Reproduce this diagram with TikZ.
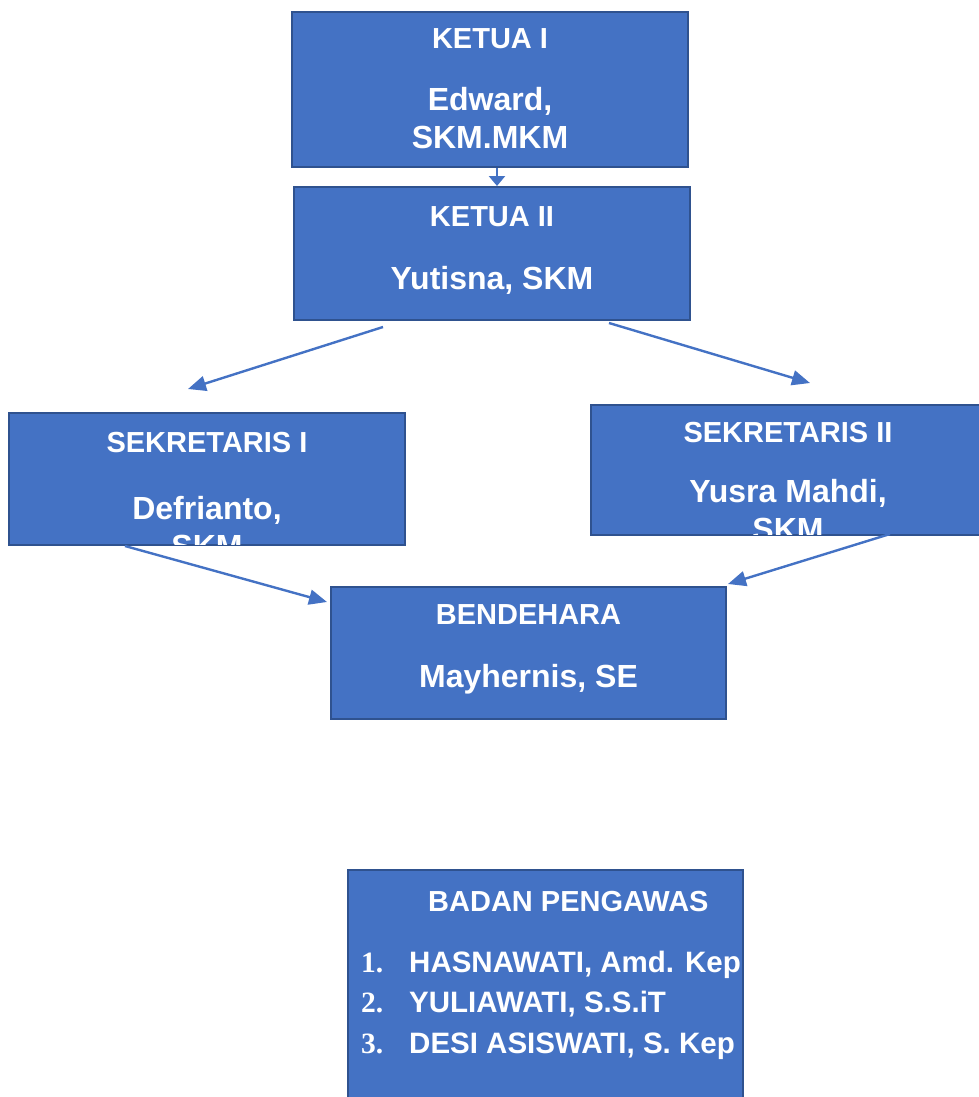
\documentclass[tikz,border=0pt]{standalone}
\usepackage{fontspec}
\setmainfont{Liberation Sans}
\newfontfamily\angka{Liberation Serif}
\usetikzlibrary{arrows.meta}
\definecolor{biru}{HTML}{4472C4}
\definecolor{birutua}{HTML}{2F528F}

\begin{document}
\begin{tikzpicture}[x=1pt,y=-1pt,
  kotak/.style={draw=birutua, fill=biru, line width=2pt, inner sep=0pt},
  judul/.style={text=white, font=\fontsize{29}{34}\selectfont\bfseries, inner sep=0pt, anchor=base},
  nama/.style={text=white, font=\fontsize{32}{38}\selectfont\bfseries, inner sep=0pt, anchor=base, align=center},
  isi/.style={text=white, font=\fontsize{29.5}{34}\selectfont\bfseries, inner sep=0pt, anchor=base west},
  nomor/.style={isi, font=\fontsize{29.5}{34}\selectfont\angka\bfseries},
  panah/.style={biru, line width=2.4pt, -{Triangle[length=18pt,width=15pt]}}
]
\useasboundingbox (0,0) rectangle (978,1097);

\node[kotak, minimum width=396pt, minimum height=155pt] (k1) at (490,89.5) {};
\node[kotak, minimum width=396pt, minimum height=133pt] (k2) at (492,253.5) {};
\node[kotak, minimum width=396pt, minimum height=132pt] (s1) at (207,479) {};
\node[kotak, minimum width=394pt, minimum height=130pt] (s2) at (788,470) {};
\node[kotak, minimum width=395pt, minimum height=132pt] (bd) at (528.5,653) {};
\node[kotak, minimum width=395pt, minimum height=240pt] (bp) at (545.5,990) {};

% base of a two-line node is the last line
\node[judul] (k1j) at ([yshift=-38pt]k1.north) {KETUA I};
\node[nama] (k1n) at ([yshift=-138pt]k1.north) {Edward,\\SKM.MKM};
\node[judul] (k2j) at ([yshift=-40pt]k2.north) {KETUA II};
\node[nama] (k2n) at ([yshift=-103pt]k2.north) {Yutisna, SKM};
\node[judul] (s1j) at ([yshift=-40pt]s1.north) {SEKRETARIS I};
\node[judul] (s2j) at ([yshift=-38pt]s2.north) {SEKRETARIS II};
\node[judul] (bdj) at ([yshift=-38pt]bd.north) {BENDEHARA};
\node[nama] (bdn) at ([yshift=-101pt]bd.north) {Mayhernis, SE};

\begin{scope}
\clip ([yshift=2pt]s1.south west) rectangle (s1.north east);
\node[nama] (s1n) at ([yshift=-145pt]s1.north) {Defrianto,\\SKM};
\end{scope}
\begin{scope}
\clip ([yshift=2pt]s2.south west) rectangle (s2.north east);
\node[nama] (s2n) at ([yshift=-136pt]s2.north) {Yusra Mahdi,\\SKM};
\end{scope}

\node[judul, anchor=base west] (bpj) at ([xshift=81pt,yshift=-42pt]bp.north west) {BADAN PENGAWAS};
\node[nomor] (no1) at ([xshift=14pt,yshift=-103pt]bp.north west) {1.};
\node[nomor] (no2) at ([xshift=14pt,yshift=-143pt]bp.north west) {2.};
\node[nomor] (no3) at ([xshift=14pt,yshift=-184pt]bp.north west) {3.};
\node[isi] (bp1) at ([xshift=62pt,yshift=-103pt]bp.north west) {HASNAWATI, Amd. Kep};
\node[isi] (bp2) at ([xshift=62pt,yshift=-143pt]bp.north west) {YULIAWATI, S.S.iT};
\node[isi] (bp3) at ([xshift=62pt,yshift=-184pt]bp.north west) {DESI ASISWATI, S. Kep};

\draw[panah, -{Triangle[length=10pt,width=16pt]}] ([xshift=7pt]k1.south) -- ([xshift=5pt]k2.north);
\draw[panah] ([xshift=-109pt,yshift=-6pt]k2.south) -- ([xshift=-19pt,yshift=23pt]s1.north);
\draw[panah] ([xshift=117pt,yshift=-2pt]k2.south) -- ([xshift=22pt,yshift=21pt]s2.north);
\draw[panah] ([xshift=-82pt]s1.south) -- ([xshift=-3pt,yshift=-16pt]bd.north west);
\draw[panah] ([xshift=102pt,yshift=2pt]s2.south) -- ([xshift=1pt,yshift=2pt]bd.north east);
\end{tikzpicture}
\end{document}
